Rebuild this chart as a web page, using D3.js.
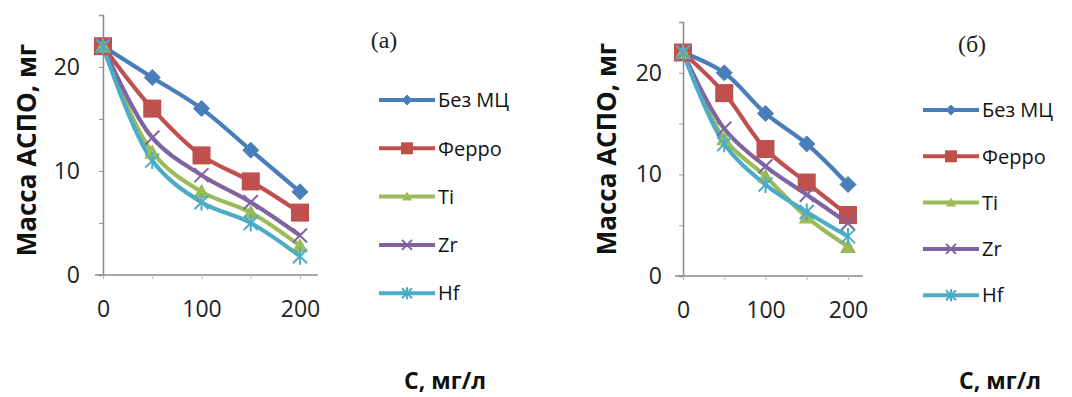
<!DOCTYPE html>
<html><head><meta charset="utf-8">
<script src="https://cdn.jsdelivr.net/npm/d3@7"></script>
<style>body{margin:0;background:#fff}svg{display:block}</style>
</head><body>
<svg id="c" width="1072" height="397"></svg>
<script>
const concentrations = [0, 50, 100, 150, 200];
const seriesNames = ["Без МЦ", "Ферро", "Ti", "Zr", "Hf"];
const yTicks = [0, 5, 10, 15, 20, 25];
const yLabelTicks = [0, 10, 20];
const xLabelTicks = [0, 100, 200];
// panel (a)
const aBez = [22, 19, 16, 12, 8];
const aFerro = [22, 16, 11.5, 9, 6];
const aTi = [22, 11.8, 8, 6, 2.8];
const aZr = [22, 13.2, 9.6, 7, 3.8];
const aHf = [22, 11, 7, 5, 1.8];
// panel (б)
const bBez = [22, 20, 16, 13, 9];
const bFerro = [22, 18, 12.5, 9.2, 6];
const bTi = [22, 13.5, 9.8, 5.8, 2.9];
const bZr = [22, 14.5, 10.8, 8, 5.2];
const bHf = [22, 13, 9, 6.3, 3.9];

const colors = ["#4A7EBB", "#C0504D", "#9BBB59", "#8064A2", "#4BACC6"];
const symbols = ["diamond", "square", "triangle", "x", "asterisk"];

const svg = d3.select("#c");
const font = "'Open Sans', 'Liberation Sans', sans-serif";

function marker(g, type, color, cx, cy, s) {
  if (type === "diamond") {
    g.append("path").attr("d", `M${cx},${cy - s}L${cx + s},${cy}L${cx},${cy + s}L${cx - s},${cy}Z`).attr("fill", color).attr("stroke", color).attr("stroke-width", 1);
  } else if (type === "square") {
    g.append("rect").attr("x", cx - s).attr("y", cy - s).attr("width", 2 * s).attr("height", 2 * s).attr("fill", color);
  } else if (type === "triangle") {
    g.append("path").attr("d", `M${cx},${cy - s}L${cx + s},${cy + s * 0.8}L${cx - s},${cy + s * 0.8}Z`).attr("fill", color);
  } else if (type === "x") {
    g.append("path").attr("d", `M${cx - s},${cy - s}L${cx + s},${cy + s}M${cx - s},${cy + s}L${cx + s},${cy - s}`).attr("stroke", color).attr("stroke-width", 2);
  } else {
    g.append("path").attr("d", `M${cx - s},${cy - s}L${cx + s},${cy + s}M${cx - s},${cy + s}L${cx + s},${cy - s}M${cx},${cy - s * 1.2}L${cx},${cy + s * 1.2}`).attr("stroke", color).attr("stroke-width", 2);
  }
}

function panel(opts) {
  const {data, xr, yr, ytitleX, ytitleY, label, labelX, labelY, legX, legY, legStep, xtitleX, ydx} = opts;
  const x = d3.scaleLinear().domain([0, 200]).range(xr);
  const y = d3.scaleLinear().domain([0, 25]).range(yr);
  const g = svg.append("g");
  // axes
  const ya = d3.axisLeft(y).tickValues(yTicks).tickSize(4).tickFormat(d => yLabelTicks.includes(d) ? d : "");
  const yg = g.append("g").attr("transform", `translate(${xr[0]},0)`).call(ya);
  yg.select(".domain").attr("stroke", "#8a8a8a").attr("stroke-width", 1.5);
  yg.selectAll(".tick line").attr("stroke", "#999");
  yg.selectAll("text").attr("font-family", font).attr("font-size", 23).attr("fill", "#222").attr("dx", ydx);
  const xa = d3.axisBottom(x).tickValues(concentrations).tickSize(4).tickFormat(d => xLabelTicks.includes(d) ? d : "");
  const xg = g.append("g").attr("transform", `translate(0,${yr[0]})`).call(xa);
  xg.select(".domain").attr("d", `M${xr[0] - 8},0H${x(218)}`).attr("stroke", "#8a8a8a").attr("stroke-width", 1.5);
  xg.selectAll(".tick line").attr("stroke", "#bbb");
  xg.selectAll("text").attr("font-family", font).attr("font-size", 23).attr("fill", "#222").attr("y", 0).attr("dy", 42);

  // lines
  const line = d3.line().x((d, i) => x(concentrations[i])).y(d => y(d)).curve(d3.curveCatmullRom.alpha(0.5));
  data.forEach((vals, si) => {
    g.append("path").attr("d", line(vals)).attr("fill", "none").attr("stroke", colors[si]).attr("stroke-width", 4.2);
  });
  data.forEach((vals, si) => {
    const sz = [8, 9, 8, 7, 7][si];
    vals.forEach((v, i) => marker(g, symbols[si], colors[si], x(concentrations[i]), y(v), sz));
  });

  // y title
  g.append("text").attr("transform", `translate(${ytitleX},${ytitleY}) rotate(-90)`)
    .attr("text-anchor", "middle").attr("font-family", font).attr("font-weight", "bold").attr("font-size", 26).attr("fill", "#111")
    .text("Масса АСПО, мг");
  // x title
  g.append("text").attr("x", xtitleX).attr("y", 389).attr("text-anchor", "middle").attr("font-family", font)
    .attr("font-weight", "bold").attr("font-size", 23).attr("fill", "#111").text("С, мг/л");
  // panel label
  g.append("text").attr("x", labelX).attr("y", labelY).attr("text-anchor", "middle")
    .attr("font-family", "'Liberation Serif', serif").attr("font-size", 24).attr("fill", "#222").text(label);
  // legend
  seriesNames.forEach((n, si) => {
    const ly = legY + si * legStep;
    const lg = g.append("g");
    lg.append("line").attr("x1", legX).attr("x2", legX + 56).attr("y1", ly).attr("y2", ly).attr("stroke", colors[si]).attr("stroke-width", 4);
    marker(lg, symbols[si], colors[si], legX + 28, ly, [5, 6, 5, 5, 5][si]);
    lg.append("text").attr("x", legX + 59).attr("y", ly).attr("dy", "0.36em").attr("font-family", font)
      .attr("font-size", 20).attr("fill", "#111").text(n);
  });
}

panel({data: [aBez, aFerro, aTi, aZr, aHf], xr: [103, 300], yr: [275, 15], ytitleX: 36, ytitleY: 150, label: "(a)", labelX: 384, labelY: 48,
  legX: 379, legY: 100, legStep: 48.3, xtitleX: 445, ydx: -16});
panel({data: [bBez, bFerro, bTi, bZr, bHf], xr: [683, 848], yr: [276, 22], ytitleX: 616, ytitleY: 149, label: "(б)", labelX: 972, labelY: 52,
  legX: 923, legY: 110, legStep: 46.3, xtitleX: 1000, ydx: -14});
</script>
</body></html>
